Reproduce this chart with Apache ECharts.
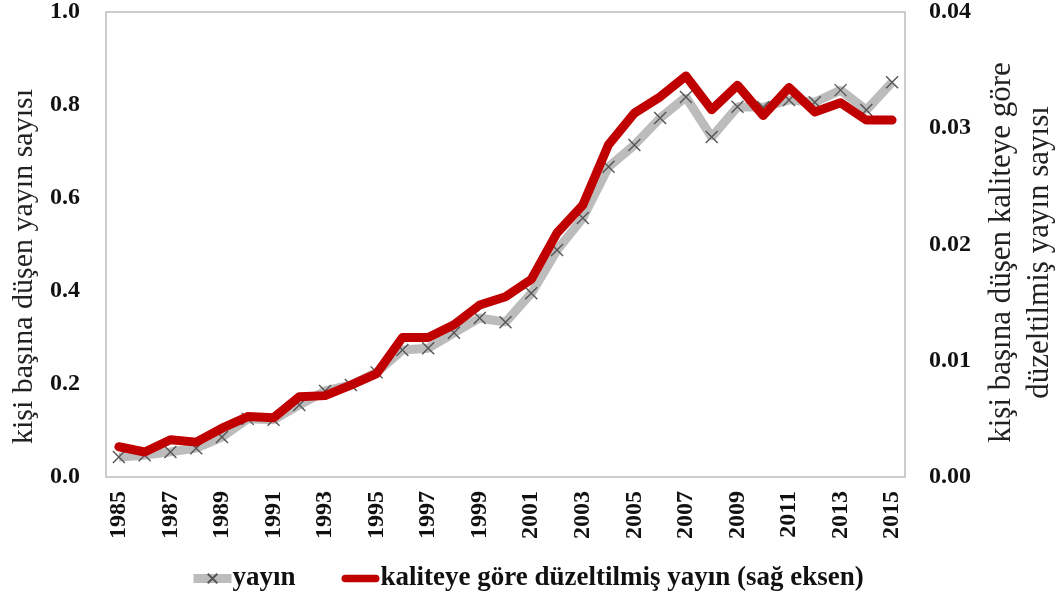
<!DOCTYPE html>
<html>
<head>
<meta charset="utf-8">
<script src="https://cdn.jsdelivr.net/npm/echarts@6/dist/echarts.min.js"></script>
<style>
  html, body { margin: 0; padding: 0; background: #fff; }
  #chart { width: 1055px; height: 594px; }
</style>
</head>
<body>
<div id="chart"></div>
<script>
var years = [];
for (var y = 1985; y <= 2015; y++) years.push(String(y));

// kişi başına düşen yayın sayısı (sol eksen)
var yayin = [0.043, 0.047, 0.054, 0.062, 0.086, 0.125, 0.123, 0.155, 0.185, 0.198, 0.225,
  0.273, 0.277, 0.31, 0.342, 0.333, 0.395, 0.488, 0.557, 0.667, 0.714,
  0.772, 0.817, 0.731, 0.796, 0.795, 0.811, 0.806, 0.832, 0.789, 0.849];

// kaliteye göre düzeltilmiş yayın (sağ eksen)
var duzeltilmis = [0.0026, 0.00215, 0.0032, 0.0030, 0.0042, 0.0052, 0.0051, 0.0069, 0.0070, 0.0079, 0.0089,
  0.0120, 0.0120, 0.0131, 0.0148, 0.0155, 0.0170, 0.0210, 0.0234, 0.0286, 0.0313,
  0.0327, 0.0345, 0.0316, 0.0337, 0.0311, 0.0335, 0.0314, 0.0322, 0.0307, 0.0307];

var leftTicks = { min: 0, max: 1, interval: 0.2 };
var rightTicks = { min: 0, max: 0.04, interval: 0.01 };

var SERIF = "'Liberation Serif', 'DejaVu Serif', serif";
var crossPath = "path://M0,0 L10,10 M10,0 L0,10";
var barIcon = "path://M5,0 L45,0 A5,5 0 0 1 45,10 L5,10 A5,5 0 0 1 5,0 Z";

var myChart = echarts.init(document.getElementById("chart"), null, { renderer: "canvas" });

var option = {
  animation: false,
  grid: {
    left: 106,
    right: 150,
    top: 12,
    bottom: 117,
    outerBoundsMode: "none",
    containLabel: false,
    show: true,
    borderColor: "#bdbdbd",
    borderWidth: 1.5,
  },
  legend: {
    bottom: -3,
    left: 184,
    itemGap: 46,
    itemWidth: 38,
    itemHeight: 12,
    lineStyle: { width: 9 },
    textStyle: {
      fontFamily: SERIF,
      fontWeight: "bold",
      fontSize: 27,
      color: "#111",
      padding: [0, 0, 0, -4],
    },
    data: [
      { name: "yayın" },
      {
        name: "kaliteye göre düzeltilmiş yayın (sağ eksen)",
        icon: barIcon,
        itemStyle: { color: "#c00000" },
      },
    ],
  },
  xAxis: {
    type: "category",
    data: years,
    boundaryGap: true,
    axisLine: { show: false },
    axisTick: { show: false },
    axisLabel: {
      interval: 1,
      rotate: 90,
      margin: 14,
      fontFamily: SERIF,
      fontWeight: "bold",
      fontSize: 24,
      color: "#111",
    },
  },
  yAxis: [
    {
      type: "value",
      min: leftTicks.min,
      max: leftTicks.max,
      interval: leftTicks.interval,
      name: "kişi başına düşen yayın sayısı",
      nameLocation: "middle",
      nameGap: 65,
      nameRotate: 90,
      nameTextStyle: {
        fontFamily: SERIF,
        fontSize: 30,
        color: "#222",
        padding: [0, 44, 0, 0],
      },
      axisLine: { show: false },
      axisTick: { show: false },
      splitLine: { show: false },
      axisLabel: {
        margin: 26,
        fontFamily: SERIF,
        fontWeight: "bold",
        fontSize: 24,
        color: "#111",
        formatter: function (v) {
          return v.toFixed(1);
        },
      },
    },
    {
      type: "value",
      position: "right",
      min: rightTicks.min,
      max: rightTicks.max,
      interval: rightTicks.interval,
      name: "kişi başına düşen kaliteye göre\ndüzeltilmiş yayın sayısı",
      nameLocation: "middle",
      nameGap: 78,
      nameRotate: 90,
      nameTextStyle: {
        fontFamily: SERIF,
        fontSize: 31,
        lineHeight: 38,
        align: "center",
        color: "#222",
        padding: [0, 16, 0, 0],
      },
      axisLine: { show: false },
      axisTick: { show: false },
      splitLine: { show: false },
      axisLabel: {
        margin: 24,
        fontFamily: SERIF,
        fontWeight: "bold",
        fontSize: 24,
        color: "#111",
        formatter: function (v) {
          return v.toFixed(2);
        },
      },
    },
  ],
  series: [
    {
      name: "yayın",
      type: "line",
      yAxisIndex: 0,
      data: yayin,
      symbol: crossPath,
      symbolSize: 12,
      showAllSymbol: true,
      lineStyle: { color: "#bcbcbc", width: 9 },
      itemStyle: { color: "transparent", borderColor: "#555", borderWidth: 1.4 },
      z: 2,
    },
    {
      name: "kaliteye göre düzeltilmiş yayın (sağ eksen)",
      type: "line",
      yAxisIndex: 1,
      data: duzeltilmis,
      symbol: "none",
      lineStyle: { color: "#c00000", width: 9, join: "round", cap: "round" },
      itemStyle: { color: "#c00000" },
      z: 3,
    },
  ],
};

myChart.setOption(option);
</script>
</body>
</html>
